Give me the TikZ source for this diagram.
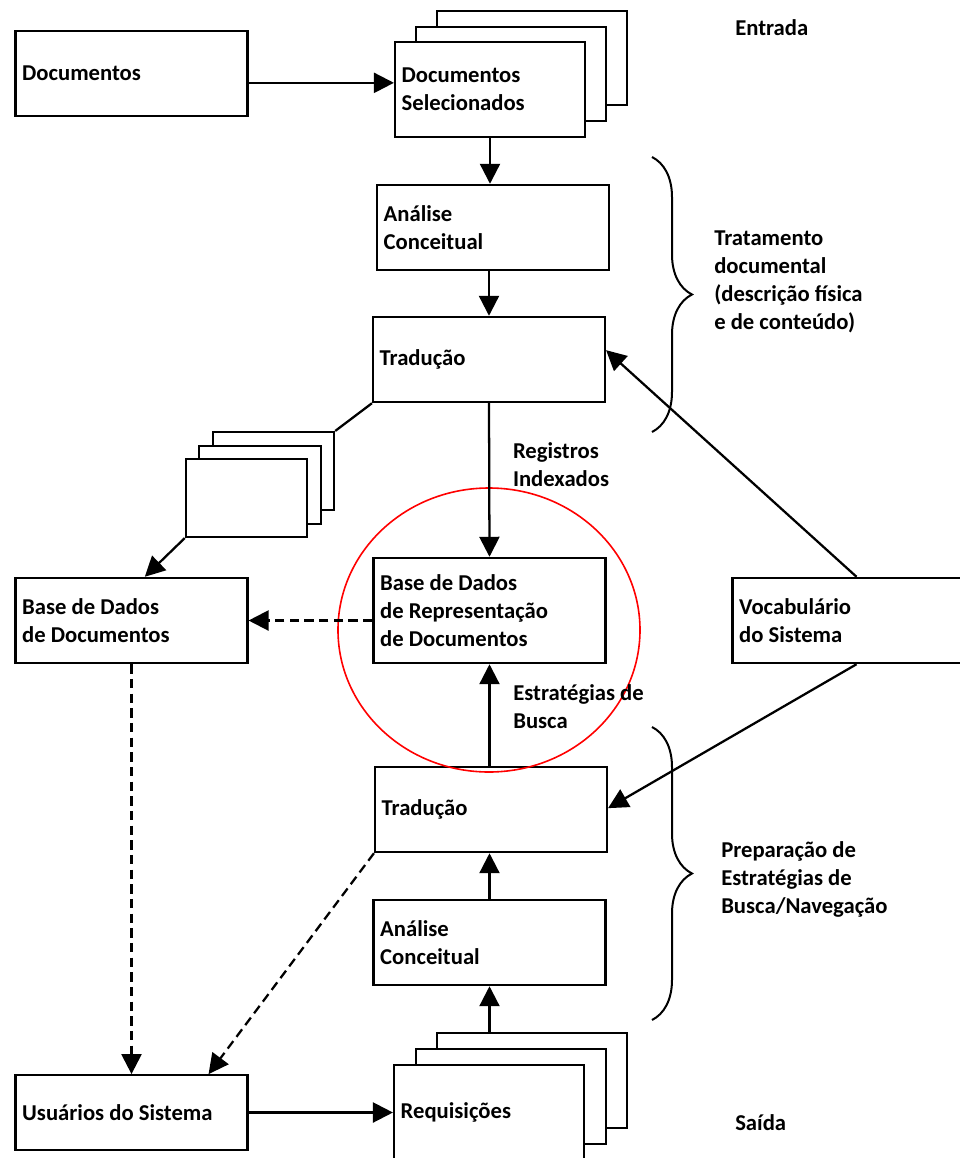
\documentclass[tikz,border=0pt]{standalone}
\usepackage{fontspec}
\setmainfont{Carlito}
\usetikzlibrary{arrows.meta, decorations.pathreplacing}

\begin{document}
\begin{tikzpicture}[x=0.75pt, y=-0.75pt, >={Triangle[length=15pt,width=15pt]},
    font=\fontsize{17}{21}\selectfont\bfseries]
  \tikzstyle{box} = [draw, fill=white, line width=1.6pt, inner xsep=5pt, inner ysep=0pt, align=flush left, text width=164pt, minimum height=64pt]
  \tikzstyle{stackbox} = [box, text width=132.5pt, minimum height=71pt]
  \tikzstyle{sheet} = [draw, fill=white, line width=1.6pt, minimum width=91pt, minimum height=58.5pt, inner sep=0pt]
  \tikzstyle{lbl} = [align=left, inner sep=0pt, anchor=west]
  \tikzstyle{flow} = [line width=1.7pt]
  \tikzstyle{dflow} = [line width=1.7pt, dash pattern=on 7pt off 4pt]
  \tikzstyle{brace} = [decorate, decoration={brace, amplitude=30pt}, line width=1.5pt]
  \useasboundingbox (0,0) rectangle (960,1158);

  % entrada
  \node [box] (docs) at (131.5,73.5) {Documentos};
  \node [stackbox] (sel3) at (532,58) {};
  \node [stackbox] (sel2) at (511,74) {};
  \node [stackbox] (sel) at (490,89.5) {Documentos\\Selecionados};

  % tratamento documental
  \node [box] (ac1) at (493,227.5) {Análise\\Conceitual};
  \node [box] (trad1) at (489,359.5) {Tradução};
  \node [sheet] (ls3) at (273.5,471) {};
  \node [sheet] (ls2) at (260,485) {};
  \node [sheet] (ls1) at (246.5,498) {};
  \node [box] (bdd) at (131.5,620.5) {Base de Dados\\de Documentos};
  \node [box, minimum height=79pt] (bdr) at (489.5,610.5) {Base de Dados\\de Representação\\de Documentos};
  \node [box] (voc) at (848.5,620.5) {Vocabulário\\do Sistema};

  % busca
  \node [box] (trad2) at (491,809.5) {Tradução};
  \node [box] (ac2) at (489.5,942.5) {Análise\\Conceitual};
  \node [box, minimum height=56pt] (usu) at (131.5,1112.5) {Usuários do Sistema};
  \node [stackbox] (req3) at (532,1080.5) {};
  \node [stackbox] (req2) at (511,1096.5) {};
  \node [stackbox] (req) at (489,1112.5) {Requisições};

  \node [lbl] (entrada) at (735,28) {Entrada};
  \node [lbl] (saida) at (735,1123) {Saída};
  \node [lbl] (trat) at (714,282) {Tratamento\\documental\\(descrição física\\e de conteúdo)};
  \node [lbl] (prep) at (721,879) {Preparação de\\Estratégias de\\Busca/Navegação};

  \coordinate (b1t) at (652,157);
  \coordinate (b1b) at (652,432);
  \coordinate (b2t) at (652,727);
  \coordinate (b2b) at (652,1020);
  \draw [brace] (b1t) -- (b1b);
  \draw [brace] (b2t) -- (b2b);

  \draw [red, line width=1.2pt] (489,630) ellipse [x radius=151, y radius=142];

  \draw [flow, ->] ([yshift=-7pt]docs.east) -- ([yshift=-7pt]docs.east -| sel.west);
  \draw [flow, ->] (sel.south) -- (sel.south |- ac1.north);
  \draw [flow, ->] (trad1.north |- ac1.south) -- (trad1.north);
  \draw [flow, ->] (trad1.south) -- node [lbl, pos=0.4, xshift=17pt] {Registros\\Indexados} (bdr.north);
  \draw [flow, ->] (bdr.south |- trad2.north) -- node [lbl, pos=0.58, xshift=17pt] {Estratégias de\\Busca} (bdr.south);
  \draw [flow] (trad1.south west) -- (ls3.north east);
  \draw [flow, ->] (ls1.south west) -- ([xshift=10pt]bdd.north);
  \draw [dflow, ->] (bdd.east -| bdr.west) -- (bdd.east);
  \draw [flow, ->] ([xshift=6pt]voc.north) -- ([yshift=7pt]trad1.east);
  \draw [flow, ->] ([xshift=6pt]voc.south) -- ([yshift=1pt]trad2.east);
  \draw [flow, ->] (ac2.north) -- (ac2.north |- trad2.south);
  \draw [flow, ->] (ac2.south |- req3.north) -- (ac2.south);
  \draw [flow, ->] (usu.east) -- (usu.east -| req.west);
  \draw [dflow, ->] (bdd.south) -- (usu.north);
  \draw [dflow, ->] (trad2.south west) -- ([xshift=-30pt]usu.north east);
\end{tikzpicture}
\end{document}
